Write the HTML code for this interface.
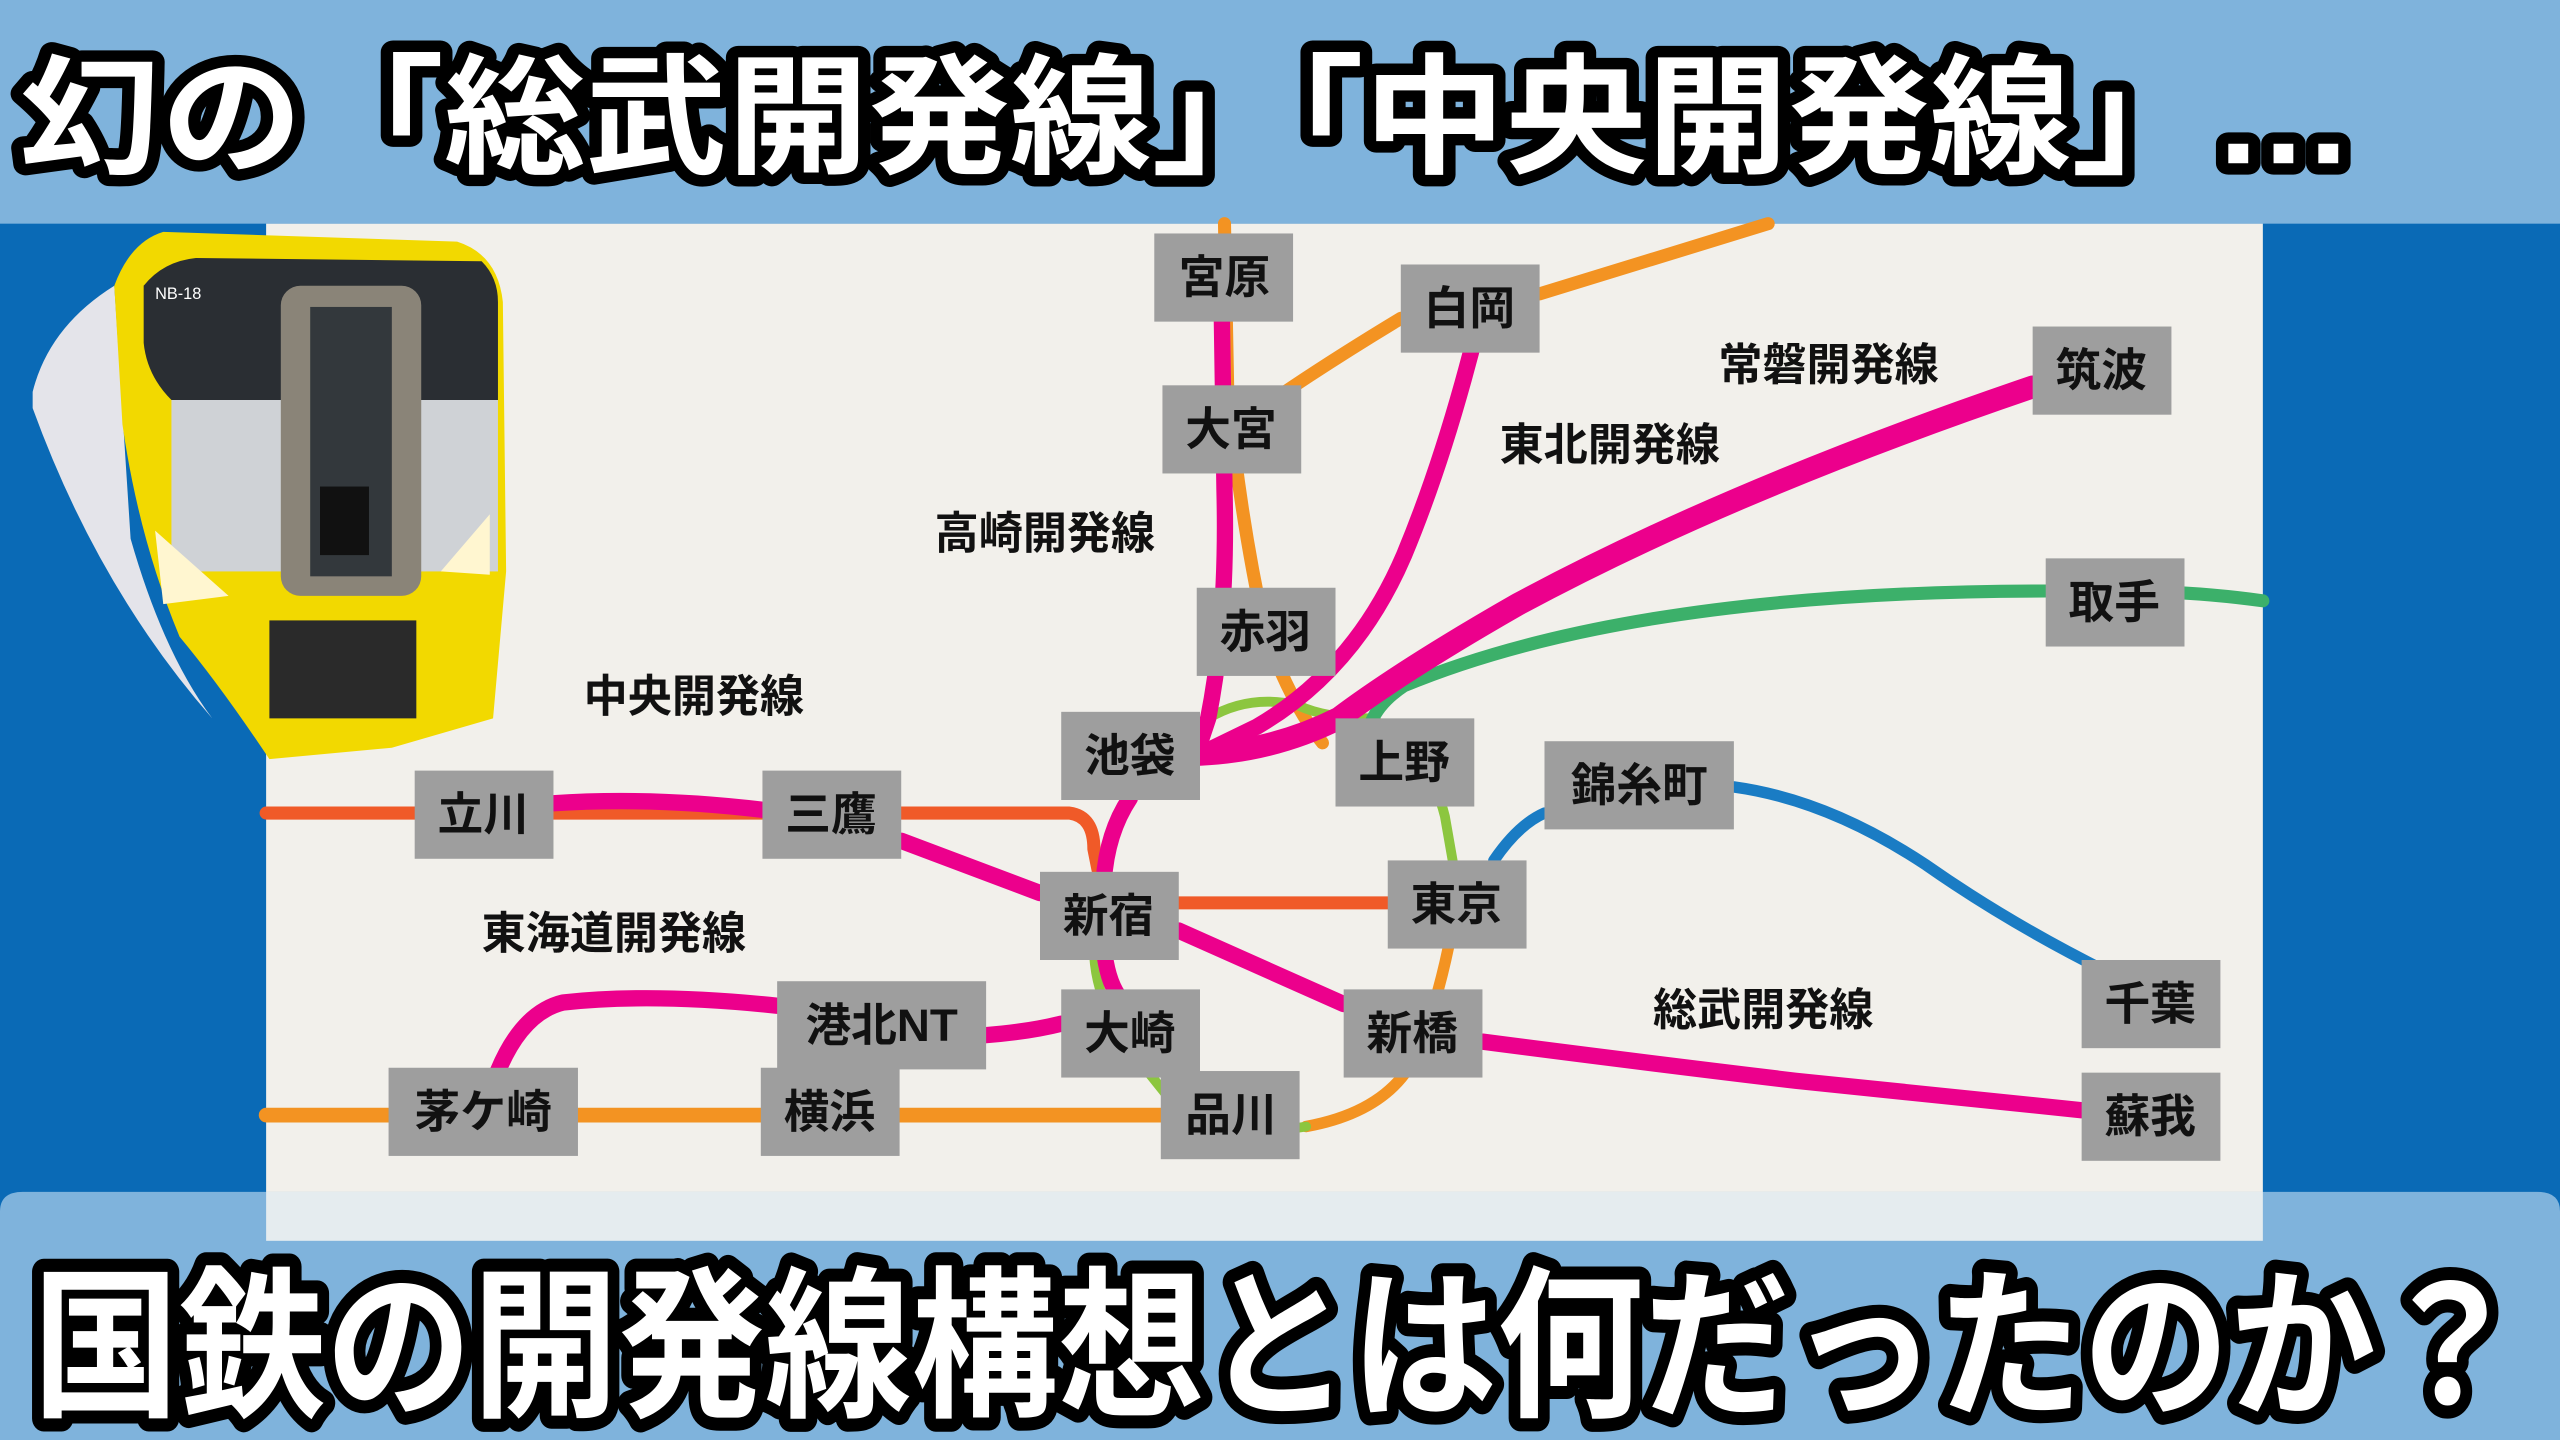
<!DOCTYPE html>
<html><head><meta charset="utf-8"><style>
html,body{margin:0;padding:0;width:2560px;height:1440px;overflow:hidden;background:#0a6ab6}
svg{display:block}
.st{font-family:"Liberation Sans","Noto Sans CJK JP",sans-serif;font-weight:bold;font-size:28px;fill:#111;text-anchor:middle;dominant-baseline:central}
.lb{font-family:"Liberation Sans","Noto Sans CJK JP",sans-serif;font-weight:bold;font-size:27px;fill:#111;text-anchor:middle;dominant-baseline:central}
.tt{font-family:"Liberation Sans","Noto Sans CJK JP",sans-serif;font-weight:bold;fill:#fff;stroke:#000;stroke-linejoin:round;paint-order:stroke}
</style></head><body>
<svg width="2560" height="1440" viewBox="0 0 1568 882" xmlns="http://www.w3.org/2000/svg">
<rect x="0" y="0" width="1568" height="882" fill="#0a6ab6"/>
<rect x="0" y="0" width="1568" height="137" fill="#7fb3dc"/>
<rect x="163" y="137" width="1223" height="623" fill="#f2f0eb"/>
<g fill="none" stroke-linecap="round" stroke-linejoin="round">
<path d="M750,137 L752,240 Q760,320 775,387 Q790,430 810,455" stroke="#f39322" stroke-width="8"/>
<path d="M754,263 Q800,230 858,195 L943,180 L1083,137" stroke="#f39322" stroke-width="8"/>
<path d="M163,683 L755,683" stroke="#f39322" stroke-width="9"/>
<path d="M892,553 Q885,600 870,640 Q855,680 800,690" stroke="#f39322" stroke-width="7"/>
<path d="M163,498 L655,498 Q670,500 670,520 L675,545" stroke="#f05a28" stroke-width="8"/>
<path d="M679,553 L892,553" stroke="#f05a28" stroke-width="8"/>
<path d="M740,440 Q765,425 795,432 Q812,440 840,440 Q875,460 885,500 L892,540 M670,580 Q670,610 690,640 Q710,665 730,690 Q770,695 800,690" stroke="#8cc63f" stroke-width="6"/>
<path d="M1386,368 Q1330,360 1253,362 Q1000,362 860,420 Q845,430 840,442" stroke="#3cb06a" stroke-width="8"/>
<path d="M915,527 Q930,505 946,498" stroke="#1a7cc4" stroke-width="7"/>
<path d="M1062,482 Q1120,490 1180,530 Q1230,565 1290,595" stroke="#1a7cc4" stroke-width="7"/>
<g stroke="#ec008c" stroke-width="10">
<path d="M748,170 L750,300 Q752,380 740,440 L735,455"/>
<path d="M905,200 Q885,280 860,340 Q830,410 770,445 L735,462"/>
<path d="M1245,237 Q1060,300 930,370 Q860,410 820,440 Q780,460 735,462" stroke-width="14"/>
<path d="M339,492 Q400,488 467,496"/>
<path d="M552,515 L637,547"/>
<path d="M692,489 Q678,510 676,540 L676,580 Q678,600 685,610"/>
<path d="M722,570 L823,615"/>
<path d="M908,638 Q1000,650 1100,662 L1275,680"/>
<path d="M604,634 Q630,632 650,627"/>
<path d="M305,656 Q320,620 345,614 Q400,608 476,616"/>
</g>
</g>
<g fill="#9e9e9e">
<rect x="707" y="143" width="85" height="54"/>
<rect x="858" y="162" width="85" height="54"/>
<rect x="1245" y="200" width="85" height="54"/>
<rect x="712" y="236" width="85" height="54"/>
<rect x="733" y="360" width="85" height="54"/>
<rect x="1253" y="342" width="85" height="54"/>
<rect x="650" y="436" width="85" height="54"/>
<rect x="818" y="440" width="85" height="54"/>
<rect x="946" y="454" width="116" height="54"/>
<rect x="254" y="472" width="85" height="54"/>
<rect x="467" y="472" width="85" height="54"/>
<rect x="637" y="534" width="85" height="54"/>
<rect x="850" y="527" width="85" height="54"/>
<rect x="1275" y="588" width="85" height="54"/>
<rect x="476" y="601" width="128" height="54"/>
<rect x="650" y="606" width="85" height="54"/>
<rect x="823" y="606" width="85" height="54"/>
<rect x="238" y="654" width="116" height="54"/>
<rect x="466" y="654" width="85" height="54"/>
<rect x="711" y="656" width="85" height="54"/>
<rect x="1275" y="657" width="85" height="54"/>
</g>
<g class="st">
<text x="750" y="170">宮原</text><text x="900" y="189">白岡</text><text x="1287" y="227">筑波</text>
<text x="754" y="263">大宮</text><text x="775" y="387">赤羽</text><text x="1295" y="369">取手</text>
<text x="692" y="463">池袋</text><text x="860" y="467">上野</text><text x="1004" y="481">錦糸町</text>
<text x="296" y="499">立川</text><text x="509" y="499">三鷹</text><text x="679" y="561">新宿</text>
<text x="892" y="554">東京</text><text x="1317" y="615">千葉</text><text x="540" y="628">港北NT</text>
<text x="692" y="633">大崎</text><text x="865" y="633">新橋</text><text x="296" y="681">茅ケ崎</text>
<text x="508" y="681">横浜</text><text x="754" y="683">品川</text><text x="1317" y="684">蘇我</text>
</g>
<g class="lb">
<text x="1120" y="224">常磐開発線</text><text x="986" y="273">東北開発線</text>
<text x="640" y="327">高崎開発線</text><text x="425" y="427">中央開発線</text>
<text x="376" y="572">東海道開発線</text><text x="1080" y="619">総武開発線</text>
</g>
<!-- train -->
<g>
<path d="M20,240 Q30,200 70,175 L80,330 Q100,400 130,440 Q60,360 20,250 Z" fill="#e4e4ea"/>
<path d="M70,175 Q80,148 100,142 L280,148 Q305,156 308,185 L310,350 L302,440 L240,458 L165,465 Q135,420 110,390 Q85,330 75,260 Z" fill="#f2d900"/>
<path d="M88,175 Q100,160 120,158 L295,160 Q305,170 305,185 L305,245 L105,245 Q90,230 88,210 Z" fill="#2a2e33"/>
<rect x="105" y="245" width="200" height="105" fill="#cfd2d6"/>
<rect x="172" y="175" width="86" height="190" rx="12" fill="#8a8478"/>
<rect x="190" y="188" width="50" height="165" fill="#33383c"/>
<rect x="196" y="298" width="30" height="42" fill="#111"/>
<text x="95" y="183" font-family="Liberation Sans,sans-serif" font-size="10" fill="#fff">NB-18</text>
<path d="M95,325 L140,365 L100,370 Z" fill="#fff6d0"/>
<path d="M300,315 L270,350 L300,352 Z" fill="#fff6d0"/>
<rect x="165" y="380" width="90" height="60" fill="#2a2a2a"/>
</g>
<path d="M0,742 Q0,730 14,730 L1554,730 Q1568,730 1568,742 L1568,882 L0,882 Z" fill="#7fb3dc"/>
<rect x="163" y="730" width="1223" height="30" fill="#f7f6f2" opacity="0.85"/>
<text class="tt" x="12" y="100" font-size="80" stroke-width="14" textLength="1430" lengthAdjust="spacingAndGlyphs">幻の「総武開発線」「中央開発線」…</text>
<text class="tt" x="20" y="860" font-size="100" stroke-width="16" textLength="1525" lengthAdjust="spacingAndGlyphs">国鉄の開発線構想とは何だったのか？</text>
</svg>
</body></html>
